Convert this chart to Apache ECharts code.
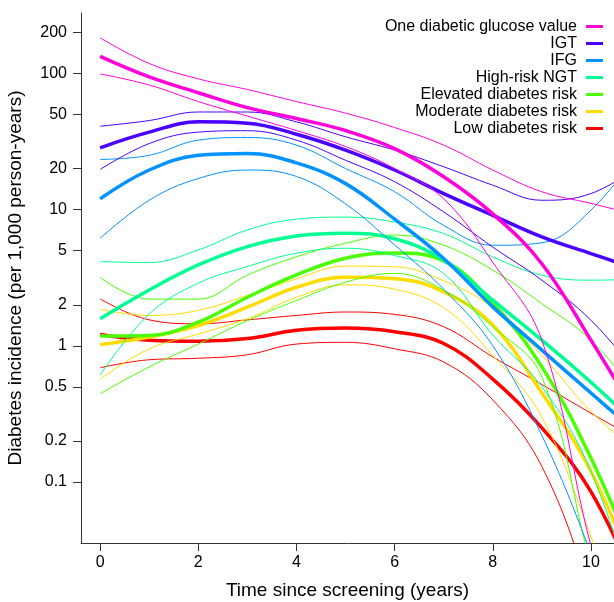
<!DOCTYPE html>
<html><head><meta charset="utf-8">
<script src="https://cdn.jsdelivr.net/npm/echarts@6/dist/echarts.min.js"></script>
<style>html,body{margin:0;padding:0;background:#fff}#c{width:614px;height:602px}</style>
</head><body><div id="c"></div>
<script>
const xs = [0, 1, 2, 3, 4, 5, 6, 7, 8, 9, 10, 11];
const xTicks = [0, 2, 4, 6, 8, 10];
const yTicks = [0.1, 0.2, 0.5, 1, 2, 5, 10, 20, 50, 100, 200];
const groups = ["One diabetic glucose value", "IGT", "IFG", "High-risk NGT", "Elevated diabetes risk", "Moderate diabetes risk", "Low diabetes risk"];
const colors = ["#FF00DB", "#4900FF", "#0092FF", "#00FF92", "#49FF00", "#FFDB00", "#FF0000"];

const oneEst   = [133, 94, 72, 56, 46.6, 38, 28, 17.4, 9.3, 4.0, 1.1, 0.28];
const oneUpper = [182, 118, 91, 76, 62, 51, 40, 29.7, 19.5, 13.5, 11.1, 9.0];
const oneLower = [99, 82, 62, 48.5, 38, 29, 20, 12, 4.1, 1.1, 0.034, 0.002];

const igtEst   = [28.4, 37, 44, 43, 35.7, 27.3, 19.5, 13.1, 9.06, 6.3, 4.75, 3.6];
const igtUpper = [40.9, 45, 52, 52, 44, 34.2, 27.3, 20.6, 15.1, 11.7, 13.1, 21];
const igtLower = [19.7, 30.5, 37, 37.9, 32.3, 23, 16, 9.6, 5.3, 3.03, 1.54, 0.59];

const ifgEst   = [12, 19.5, 25, 25.8, 22, 15.5, 8.5, 4.37, 1.93, 0.93, 0.45, 0.22];
const ifgUpper = [23.3, 25, 32.3, 33.8, 29.7, 20, 13.5, 7.65, 5.47, 5.7, 9.9, 27];
const ifgLower = [6.15, 11.7, 16.9, 19.5, 17.5, 11, 5.5, 2.6, 1.0, 0.22, 0.03, 0.003];

const ngtEst   = [1.58, 2.57, 3.92, 5.35, 6.4, 6.7, 6.1, 4.25, 2.16, 1.1, 0.54, 0.25];
const ngtUpper = [4.15, 4.08, 5.05, 7.08, 8.5, 8.8, 8.1, 6.66, 4.49, 3.3, 3.03, 3.1];
const ngtLower = [0.61, 1.71, 2.88, 3.82, 4.78, 5.2, 4.6, 3.39, 1.2, 0.5, 0.12, 0.01];

const elevEst   = [1.18, 1.19, 1.49, 2.27, 3.31, 4.39, 4.8, 4.2, 2.05, 0.7, 0.15, 0.022];
const elevUpper = [3.18, 2.2, 2.2, 3.3, 4.5, 5.66, 6.5, 5.47, 3.59, 2.04, 1.1, 0.41];
const elevLower = [0.445, 0.7, 1.03, 1.53, 2.15, 2.93, 3.4, 2.56, 1.38, 0.59, 0.025, 0.002];

const modEst   = [1.02, 1.16, 1.41, 1.92, 2.69, 3.18, 3.11, 2.49, 1.42, 0.45, 0.12, 0.017];
const modUpper = [1.85, 1.67, 1.82, 2.34, 3.1, 3.85, 3.8, 3.0, 1.9, 0.85, 0.33, 0.16];
const modLower = [0.57, 0.95, 1.22, 1.58, 2.27, 2.8, 2.6, 1.9, 0.85, 0.3, 0.04, 0.004];

const lowEst   = [1.21, 1.1, 1.08, 1.13, 1.3, 1.35, 1.27, 1.04, 0.57, 0.25, 0.085, 0.015];
const lowUpper = [2.21, 1.55, 1.45, 1.55, 1.67, 1.77, 1.70, 1.38, 0.83, 0.52, 0.32, 0.2];
const lowLower = [0.69, 0.79, 0.81, 0.86, 1.03, 1.06, 0.95, 0.76, 0.40, 0.13, 0.015, 0.001];

const groupData = [
  [oneEst, oneUpper, oneLower],
  [igtEst, igtUpper, igtLower],
  [ifgEst, ifgUpper, ifgLower],
  [ngtEst, ngtUpper, ngtLower],
  [elevEst, elevUpper, elevLower],
  [modEst, modUpper, modLower],
  [lowEst, lowUpper, lowLower]
];

const FONT = "Liberation Sans, Arial, Helvetica, sans-serif";
const toPts = arr => xs.map((x, i) => [x, Math.log10(arr[i])]);
const series = [];
for (let g = groupData.length - 1; g >= 0; g--) {
  const [est, up, lo] = groupData[g];
  [[up, 'u'], [lo, 'l']].forEach(([arr, k]) => {
    series.push({
      name: groups[g] + ' ' + k, type: 'line', data: toPts(arr), smooth: 0.4,
      showSymbol: false, silent: true, color: colors[g],
      lineStyle: { width: 1, color: colors[g] }
    });
  });
  series.push({
    name: groups[g], type: 'line', data: toPts(est), smooth: 0.4,
    showSymbol: false, silent: true, color: colors[g],
    lineStyle: { width: 3.5, color: colors[g] }
  });
}

const chart = echarts.init(document.getElementById('c'), null, { renderer: 'canvas' });
chart.setOption({
  animation: false,
  backgroundColor: '#fff',
  grid: { left: 81, right: 0, top: 13, bottom: 59, containLabel: false, outerBoundsMode: 'none' },
  legend: {
    data: groups, orient: 'vertical', right: 11, top: 18, align: 'right', padding: 0,
    itemGap: 0, itemWidth: 17, itemHeight: 3, icon: 'rect',
    textStyle: { fontFamily: FONT, fontSize: 16, color: '#000', lineHeight: 17, padding: [0, 4, 0, 0] }
  },
  xAxis: {
    type: 'value', min: -0.39, max: 10.47,
    name: 'Time since screening (years)', nameLocation: 'middle', nameGap: 38,
    nameTextStyle: { fontFamily: FONT, fontSize: 19, color: '#000' },
    axisLine: { show: true, onZero: false, lineStyle: { color: '#333', width: 1 } },
    axisTick: { show: true, length: 8, customValues: xTicks, lineStyle: { color: '#333' } },
    axisLabel: { customValues: xTicks, fontFamily: FONT, fontSize: 16, color: '#000', margin: 12 },
    splitLine: { show: false }
  },
  yAxis: {
    type: 'value', min: Math.log10(0.0357), max: Math.log10(277),
    name: 'Diabetes incidence (per 1,000 person-years)', nameLocation: 'middle', nameGap: 56,
    nameTextStyle: { fontFamily: FONT, fontSize: 19, color: '#000' },
    axisLine: { show: true, onZero: false, lineStyle: { color: '#333', width: 1 } },
    axisTick: { show: true, length: 8, customValues: yTicks.map(v => Math.log10(v)), lineStyle: { color: '#333' } },
    axisLabel: {
      customValues: yTicks.map(v => Math.log10(v)), fontFamily: FONT, fontSize: 16, color: '#000', margin: 14,
      formatter: v => String(Math.round(Math.pow(10, v) * 1000) / 1000)
    },
    splitLine: { show: false }
  },
  series: series
});
</script></body></html>
